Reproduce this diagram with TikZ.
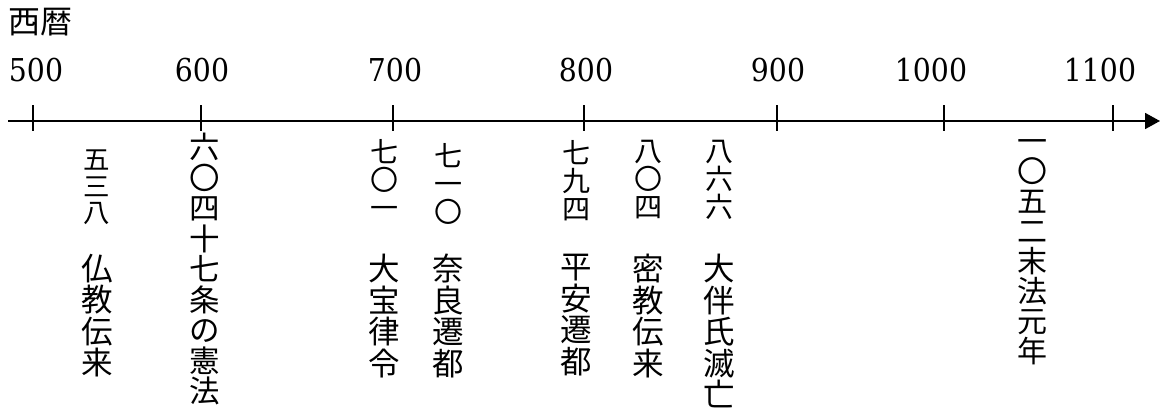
\documentclass[tikz,border=0pt]{standalone}
\usepackage{fontspec}
\setmainfont{Liberation Serif}
\newfontfamily\jpfont{Noto Sans CJK JP}
\newfontfamily\yearfont[FakeStretch=0.9]{DejaVu Serif}
\usetikzlibrary{arrows.meta}

\begin{document}
\begin{tikzpicture}[x=1pt,y=-1pt]
      \tikzset{
        axis/.style={line width=1.8pt},
        year/.style={font=\yearfont\fontsize{31.5}{31.5}\selectfont,inner sep=0pt,anchor=base},
        tate/.style={font=\jpfont\fontsize{#1}{#1}\selectfont,align=center,inner sep=0pt,anchor=north,
                     execute at begin node={\rule{0pt}{0.88em}}},
        tate/.default=31.5
      }

      \useasboundingbox (0,0) rectangle (1163,418);
      \node[font=\jpfont\fontsize{32}{32}\selectfont,inner sep=0pt,anchor=base west] (seireki) at (8,33) {西暦};

      \coordinate (a0) at (8,121);
      \coordinate (a1) at (1160,121);
      \draw[axis,-{Triangle[length=15pt,width=16pt]}] (a0) -- (a1);

      \foreach \yr/\tx/\lx in {500/33/36,600/201/202,700/393/395,800/584/586,900/777/778,1000/944/931,1100/1113/1100}{
        \coordinate (t\yr) at (\tx,121);
        \draw[axis] ([yshift=16pt]t\yr) -- ([yshift=-10pt]t\yr);
        \node[year] (y\yr) at (\lx,81) {\yr};
      }

      \node[tate=26.5] (n538) at (97,150) {五\\三\\八};
      \node[tate] (e538) at (97,254) {仏\\教\\伝\\来};
      \node[tate=30.5] (e604) at (205,133) {六\\〇\\四\\十\\七\\条\\の\\憲\\法};
      \node[tate=28] (n701) at (384,139) {七\\〇\\一};
      \node[tate] (e701) at (384,254) {大\\宝\\律\\令};
      \node[tate=28] (n710) at (448,143) {七\\一\\〇};
      \node[tate] (e710) at (448,254) {奈\\良\\遷\\都};
      \node[tate=28] (n794) at (576,140) {七\\九\\四};
      \node[tate] (e794) at (576,254) {平\\安\\遷\\都};
      \node[tate=28] (n804) at (648,140) {八\\〇\\四};
      \node[tate] (e804) at (648,254) {密\\教\\伝\\来};
      \node[tate=28] (n866) at (719,140) {八\\六\\六};
      \node[tate] (e866) at (719,254) {大\\伴\\氏\\滅\\亡};
      \node[tate=30] (e1052) at (1032,139.5) {一\\〇\\五\\二\\末\\法\\元\\年};
    \end{tikzpicture}
\end{document}
